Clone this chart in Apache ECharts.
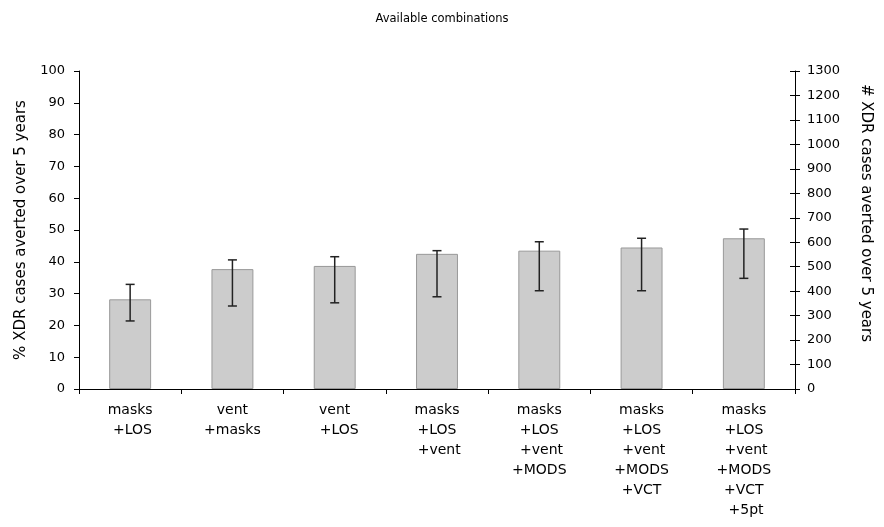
<!DOCTYPE html>
<html><head><meta charset="utf-8">
<script src="https://cdn.jsdelivr.net/npm/echarts@6/dist/echarts.min.js"></script>
<style>html,body{margin:0;padding:0;background:#fff}#c{width:884px;height:527px}</style>
</head><body><div id="c"></div>
<script>
const categories = [
  ["masks", " +LOS"],
  ["vent", "+masks"],
  ["vent", "  +LOS"],
  ["masks", "+LOS", " +vent"],
  ["masks", "+LOS", " +vent", "+MODS"],
  ["masks", "+LOS", " +vent", "+MODS", "+VCT"],
  ["masks", "+LOS", " +vent", "+MODS", "+VCT", " +5pt"]
];
const pctAverted = [28.2, 37.7, 38.7, 42.5, 43.5, 44.5, 47.4];
const errLow = [21.4, 26.1, 27.1, 29.0, 30.9, 30.9, 34.8];
const errHigh = [32.9, 40.6, 41.6, 43.5, 46.3, 47.4, 50.3];
const leftTicks = {min: 0, max: 100, interval: 10};
const rightTicks = {min: 0, max: 1300, interval: 100};

const font = 'Verdana, "DejaVu Sans", sans-serif';
const chart = echarts.init(document.getElementById('c'));
const catNames = categories.map(c => c.join('\n'));
chart.setOption({
  animation: false,
  title: {text: 'Available combinations', left: 'center', top: 8,
    textStyle: {fontFamily: font, fontSize: 11.5, fontWeight: 'normal', color: '#000'}},
  grid: {left: 79, right: 89, top: 71, bottom: 138, outerBoundsMode: 'none', containLabel: false},
  xAxis: {type: 'category', data: catNames,
    axisLine: {lineStyle: {color: '#000', width: 1}},
    axisTick: {show: true, alignWithLabel: false, length: 5, lineStyle: {color: '#000'}},
    axisLabel: {fontFamily: font, fontSize: 14, color: '#000', margin: 11, lineHeight: 20, interval: 0}},
  yAxis: [
    {type: 'value', min: leftTicks.min, max: leftTicks.max, interval: leftTicks.interval, position: 'left',
      name: '% XDR cases averted over 5 years', nameLocation: 'middle', nameGap: 50, nameRotate: 90,
      nameTextStyle: {fontFamily: font, fontSize: 15, color: '#000'},
      axisLine: {show: true, lineStyle: {color: '#000'}},
      axisTick: {show: true, length: 5, lineStyle: {color: '#000'}},
      axisLabel: {fontFamily: font, fontSize: 13, color: '#000', margin: 14},
      splitLine: {show: false}},
    {type: 'value', min: rightTicks.min, max: rightTicks.max, interval: rightTicks.interval, position: 'right',
      name: '# XDR cases averted over 5 years', nameLocation: 'middle', nameGap: 63, nameRotate: -90,
      nameTextStyle: {fontFamily: font, fontSize: 15, color: '#000', padding: [0, 34, 0, 0]},
      axisLine: {show: true, lineStyle: {color: '#000'}},
      axisTick: {show: true, length: 5, lineStyle: {color: '#000'}},
      axisLabel: {fontFamily: font, fontSize: 13, color: '#000', margin: 12, formatter: v => String(v)},
      splitLine: {show: false}},
    {type: 'value', min: rightTicks.min, max: rightTicks.max, interval: rightTicks.interval, position: 'right',
      axisLine: {show: false},
      axisTick: {show: true, inside: true, length: 5, lineStyle: {color: '#000'}},
      axisLabel: {show: false}, splitLine: {show: false}}
  ],
  series: [
    {type: 'bar', yAxisIndex: 0, data: pctAverted, barWidth: '41%',
      itemStyle: {color: '#cccccc', borderColor: '#999999', borderWidth: 1}},
    {type: 'custom', yAxisIndex: 0, z: 5,
      data: errLow.map((lo, i) => [i, lo, errHigh[i]]),
      renderItem: function (params, api) {
        const x = api.value(0);
        const lo = api.coord([x, api.value(1)]);
        const hi = api.coord([x, api.value(2)]);
        const w = 4.5;
        const st = {stroke: '#222', lineWidth: 1.5};
        return {type: 'group', children: [
          {type: 'line', shape: {x1: lo[0], y1: lo[1], x2: hi[0], y2: hi[1]}, style: st},
          {type: 'line', shape: {x1: lo[0] - w, y1: lo[1], x2: lo[0] + w, y2: lo[1]}, style: st},
          {type: 'line', shape: {x1: hi[0] - w, y1: hi[1], x2: hi[0] + w, y2: hi[1]}, style: st}
        ]};
      }}
  ]
});
</script></body></html>
